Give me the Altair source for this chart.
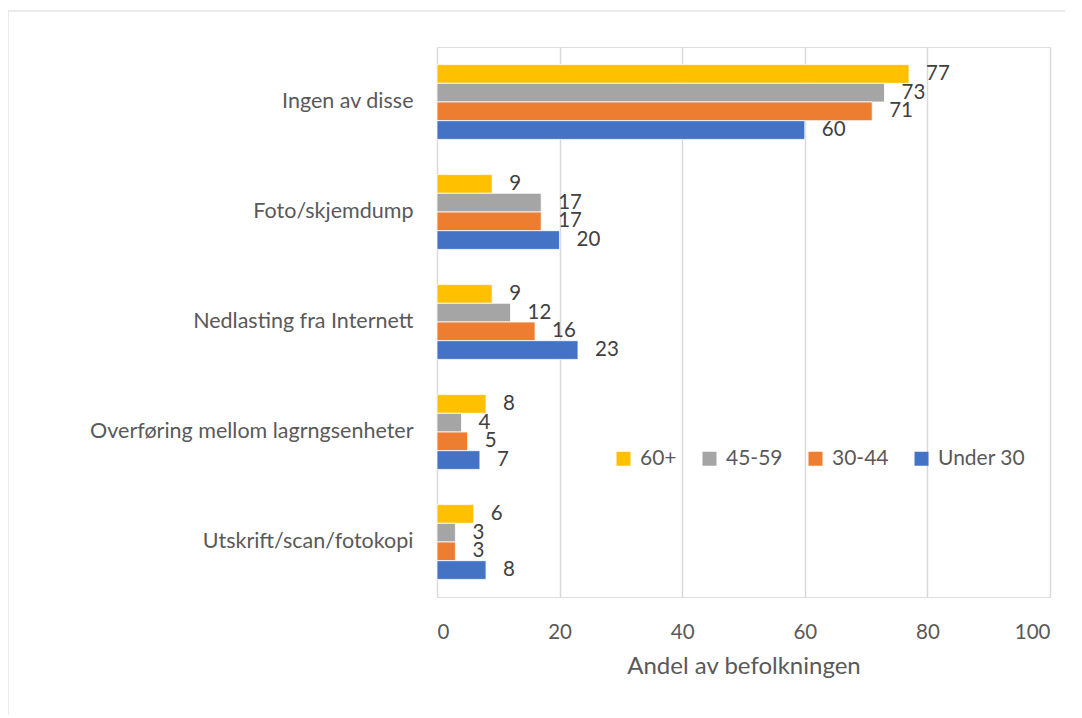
import altair as alt
import pandas as pd

categories = ["Ingen av disse", "Foto/skjemdump", "Nedlasting fra Internett",
              "Overføring mellom lagrngsenheter", "Utskrift/scan/fotokopi"]
groups = ["60+", "45-59", "30-44", "Under 30"]
colors = ["#FFC000", "#A5A5A5", "#ED7D31", "#4472C4"]
v_60 = [77, 9, 9, 8, 6]
v_45_59 = [73, 17, 12, 4, 3]
v_30_44 = [71, 17, 16, 5, 3]
v_under30 = [60, 20, 23, 7, 8]

series = [v_60, v_45_59, v_30_44, v_under30]
rows = []
for g, vals in zip(groups, series):
    for c, v in zip(categories, vals):
        rows.append({"kategori": c, "gruppe": g, "verdi": v})
df = pd.DataFrame(rows)

FONT = "Lato"

y_enc = alt.Y("kategori:N", sort=categories, title=None,
              scale=alt.Scale(paddingInner=0.32, paddingOuter=0.16),
              axis=alt.Axis(domain=False, ticks=False, labelFontSize=21.5,
                            labelColor="#595959", labelPadding=24, labelFont=FONT,
                            labelLimit=420))
yoff = alt.YOffset("gruppe:N", sort=groups, scale=alt.Scale(paddingInner=0))
x_enc = alt.X("verdi:Q", title="Andel av befolkningen",
              scale=alt.Scale(domain=[0, 100], nice=False),
              axis=alt.Axis(values=[0, 20, 40, 60, 80, 100], grid=True,
                            gridColor="#d9d9d9", gridWidth=1.5, domain=False,
                            ticks=False, labelFontSize=20.5, labelColor="#595959",
                            labelPadding=25, labelFont=FONT, titleFont=FONT,
                            titleFontSize=24, titleColor="#595959",
                            titleFontWeight="normal", titlePadding=12))

bars = alt.Chart(df).mark_bar(stroke="white", strokeWidth=0.8).encode(
    y=y_enc, yOffset=yoff, x=x_enc,
    color=alt.Color("gruppe:N", sort=groups,
                    scale=alt.Scale(domain=groups, range=colors),
                    legend=alt.Legend(title=None, orient="none", direction="horizontal",
                                      legendX=176, legendY=401, columns=4,
                                      columnPadding=22, symbolType="square",
                                      symbolSize=196, symbolStrokeWidth=0,
                                      labelFontSize=21, labelColor="#595959",
                                      labelFont=FONT, labelOffset=6)),
)

labels = alt.Chart(df).mark_text(align="left", baseline="middle", dx=17,
                                 fontSize=20.5, color="#404040", font=FONT).encode(
    y=alt.Y("kategori:N", sort=categories), yOffset=yoff, x="verdi:Q",
    text="verdi:Q",
)

border_left = alt.Chart(pd.DataFrame({"a": [0]})).mark_rule(
    color="#d9d9d9", strokeWidth=1).encode(
    x=alt.value(-429), y=alt.value(-36), y2=alt.value(700))
border_top = alt.Chart(pd.DataFrame({"a": [0]})).mark_rule(
    color="#d9d9d9", strokeWidth=1).encode(
    x=alt.value(-429), x2=alt.value(643), y=alt.value(-36))

chart = alt.layer(bars, labels, border_left, border_top).properties(
    width=613, height=550,
    autosize=alt.AutoSizeParams(type="none"),
    padding={"left": 429, "top": 39, "right": 15, "bottom": 118},
).configure_view(stroke=None).configure(font=FONT)

chart.save("out.html", embed_options={"renderer": "svg", "actions": False})
